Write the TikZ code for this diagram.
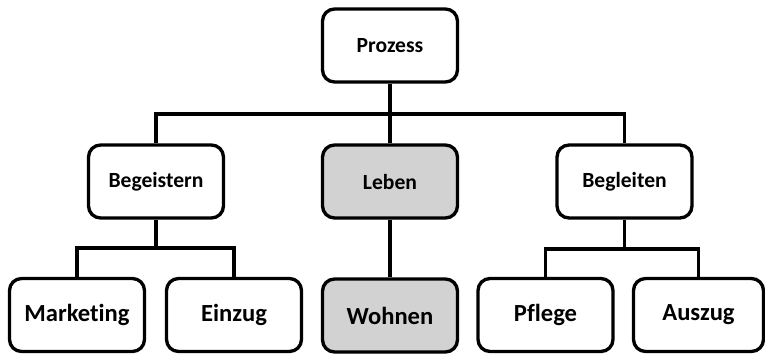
\documentclass[tikz,border=0pt]{standalone}
\usepackage{fontspec}
\setmainfont{Carlito}[Ligatures=NoCommon]
\begin{document}
\begin{tikzpicture}[x=0.02cm, y=-0.02cm, line width=1.9pt,
  box/.style={draw, rounded corners=0.24cm, minimum width=2.7cm, minimum height=1.46cm, align=center, font=\bfseries\fontsize{12.3}{14}\selectfont},
  leaf/.style={box, font=\bfseries\fontsize{14}{16}\selectfont},
  shaded/.style={fill=gray!35}]
\useasboundingbox (0,0) rectangle (765,356);
\node[box] (prozess) at (390,45.5) {Prozess};
\node[box] (begeistern) at (156,181.5) {Begeistern};
\node[box, shaded] (leben) at (390,181.5) {Leben};
\node[box] (begleiten) at (624.5,181.5) {Begleiten};
\node[leaf] (marketing) at (77,315) {Marketing};
\node[leaf] (einzug) at (234,315) {Einzug};
\node[leaf, shaded] (wohnen) at (390,315.5) {Wohnen};
\node[leaf] (pflege) at (545.5,315) {Pflege};
\node[leaf, minimum width=2.6cm] (auszug) at (698.5,315) {Auszug};
\coordinate (topbar) at (390,114);
\coordinate (leftbar) at (156,248);
\coordinate (rightbar) at (624.5,249);
\draw (prozess) -- (leben);
\draw (begeistern.north) |- (topbar) -| (begleiten.north);
\draw (leben) -- (wohnen);
\draw (begeistern) -- (leftbar);
\draw (marketing.north) |- (leftbar) -| (einzug.north);
\draw (begleiten) -- (rightbar);
\draw (pflege.north) |- (rightbar) -| (auszug.north);
\end{tikzpicture}
\end{document}
